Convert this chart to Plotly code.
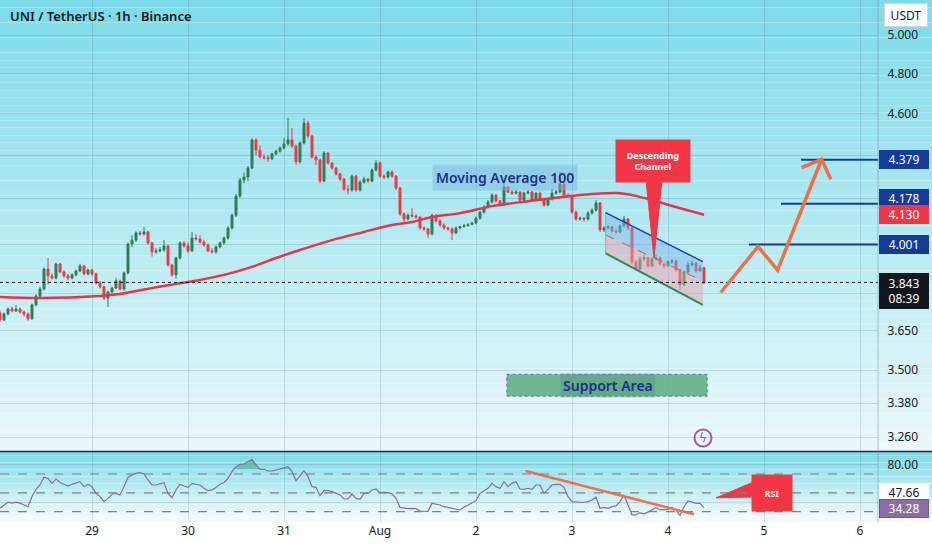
import math
import pandas as pd
import plotly.graph_objects as go

START = pd.Timestamp("2024-07-28 01:00")

# ---------------- data (1h candles) ----------------
first_open = 3.720
close = [
    3.693, 3.716, 3.736, 3.728, 3.736, 3.724, 3.716, 3.697, 3.752, 3.788,
    3.816, 3.898, 3.870, 3.861, 3.919, 3.886, 3.870, 3.861, 3.874, 3.890,
    3.911, 3.878, 3.894, 3.878, 3.841, 3.825, 3.780, 3.804, 3.820, 3.849,
    3.816, 3.882, 4.003, 4.020, 4.051, 4.046, 4.055, 4.008, 3.970, 3.974,
    3.978, 3.995, 3.915, 3.874, 3.944, 4.008, 3.995, 3.974, 4.029, 4.025,
    4.012, 3.999, 3.974, 3.970, 3.991, 4.008, 4.029, 4.072, 4.128, 4.213,
    4.285, 4.299, 4.340, 4.472, 4.424, 4.392, 4.388, 4.383, 4.406, 4.419,
    4.434, 4.453, 4.472, 4.443, 4.369, 4.458, 4.553, 4.491, 4.392, 4.378,
    4.281, 4.410, 4.364, 4.340, 4.313, 4.290, 4.244, 4.240, 4.303, 4.240,
    4.276, 4.290, 4.281, 4.331, 4.364, 4.303, 4.299, 4.322, 4.303, 4.249,
    4.133, 4.111, 4.128, 4.124, 4.120, 4.072, 4.068, 4.046, 4.128, 4.103,
    4.085, 4.072, 4.068, 4.051, 4.072, 4.078, 4.082, 4.087, 4.094, 4.115,
    4.141, 4.164, 4.186, 4.217, 4.191, 4.173, 4.253, 4.231, 4.226, 4.231,
    4.195, 4.226, 4.231, 4.195, 4.226, 4.199, 4.173, 4.199, 4.226, 4.231,
    4.267, 4.217, 4.212, 4.141, 4.111, 4.115, 4.111, 4.137, 4.150, 4.182,
    4.064, 4.072, 4.077, 4.059, 4.055, 4.081, 4.111, 4.072, 3.928, 3.898,
    3.940, 3.945, 3.911, 3.940, 3.944, 3.919, 3.911, 3.928, 3.932, 3.894,
    3.833, 3.886, 3.915, 3.923, 3.890, 3.903, 3.843,
]
high = [
    3.730, 3.722, 3.742, 3.745, 3.752, 3.742, 3.730, 3.722, 3.758, 3.795,
    3.825, 3.905, 3.944, 3.880, 3.925, 3.924, 3.893, 3.878, 3.880, 3.897,
    3.920, 3.915, 3.900, 3.900, 3.884, 3.848, 3.830, 3.810, 3.826, 3.862,
    3.855, 3.888, 4.010, 4.040, 4.058, 4.060, 4.077, 4.060, 4.012, 3.985,
    3.990, 4.020, 4.000, 3.920, 3.950, 4.015, 4.015, 4.010, 4.055, 4.045,
    4.040, 4.020, 4.005, 3.985, 3.998, 4.014, 4.035, 4.080, 4.136, 4.222,
    4.295, 4.320, 4.350, 4.480, 4.480, 4.445, 4.405, 4.400, 4.412, 4.425,
    4.440, 4.480, 4.578, 4.529, 4.450, 4.465, 4.575, 4.565, 4.495, 4.400,
    4.385, 4.418, 4.415, 4.368, 4.345, 4.318, 4.295, 4.262, 4.310, 4.308,
    4.285, 4.300, 4.296, 4.338, 4.378, 4.370, 4.312, 4.328, 4.330, 4.308,
    4.254, 4.140, 4.135, 4.158, 4.132, 4.125, 4.080, 4.072, 4.135, 4.132,
    4.110, 4.092, 4.078, 4.074, 4.078, 4.082, 4.090, 4.094, 4.100, 4.122,
    4.148, 4.172, 4.195, 4.225, 4.222, 4.196, 4.280, 4.258, 4.240, 4.240,
    4.236, 4.232, 4.240, 4.236, 4.232, 4.232, 4.205, 4.205, 4.245, 4.240,
    4.320, 4.272, 4.225, 4.218, 4.148, 4.122, 4.120, 4.145, 4.158, 4.195,
    4.186, 4.080, 4.085, 4.082, 4.070, 4.088, 4.125, 4.116, 4.078, 3.935,
    3.950, 3.958, 3.950, 3.948, 3.958, 3.950, 3.925, 3.935, 3.940, 3.937,
    3.900, 3.892, 3.928, 3.935, 3.928, 3.915, 3.908,
]
low = [
    3.685, 3.688, 3.710, 3.722, 3.724, 3.718, 3.705, 3.690, 3.693, 3.745,
    3.782, 3.810, 3.835, 3.855, 3.855, 3.880, 3.862, 3.853, 3.856, 3.868,
    3.885, 3.872, 3.872, 3.870, 3.835, 3.818, 3.772, 3.744, 3.798, 3.815,
    3.810, 3.810, 3.876, 3.990, 4.012, 4.040, 4.040, 4.000, 3.950, 3.962,
    3.968, 3.972, 3.908, 3.866, 3.858, 3.938, 3.988, 3.965, 3.970, 4.018,
    4.005, 3.992, 3.968, 3.962, 3.962, 3.985, 4.000, 4.022, 4.065, 4.120,
    4.205, 4.270, 4.280, 4.335, 4.400, 4.385, 4.380, 4.370, 4.378, 4.400,
    4.412, 4.428, 4.445, 4.435, 4.355, 4.362, 4.450, 4.480, 4.385, 4.355,
    4.270, 4.275, 4.355, 4.333, 4.305, 4.280, 4.235, 4.220, 4.232, 4.232,
    4.232, 4.268, 4.272, 4.275, 4.325, 4.295, 4.290, 4.292, 4.296, 4.240,
    4.125, 4.095, 4.105, 4.118, 4.112, 4.065, 4.060, 4.030, 4.040, 4.096,
    4.078, 4.065, 4.060, 4.020, 4.045, 4.066, 4.074, 4.078, 4.083, 4.088,
    4.108, 4.135, 4.158, 4.180, 4.185, 4.166, 4.168, 4.225, 4.218, 4.220,
    4.188, 4.190, 4.220, 4.188, 4.190, 4.193, 4.165, 4.168, 4.193, 4.220,
    4.225, 4.210, 4.205, 4.135, 4.104, 4.104, 4.100, 4.105, 4.130, 4.144,
    4.055, 4.056, 4.066, 4.052, 4.048, 4.050, 4.076, 4.065, 3.920, 3.890,
    3.892, 3.930, 3.905, 3.905, 3.932, 3.912, 3.900, 3.905, 3.920, 3.888,
    3.812, 3.828, 3.880, 3.908, 3.882, 3.885, 3.835,
]
rsi = [
    33.5, 37.0, 40.0, 39.0, 40.0, 39.0, 37.0, 35.2, 46.0, 53.7,
    58.3, 66.5, 65.4, 60.0, 64.7, 61.0, 59.0, 57.2, 59.0, 60.8,
    61.8, 56.5, 59.0, 56.5, 49.4, 46.0, 40.6, 44.0, 48.4, 49.4,
    47.7, 56.5, 66.5, 69.0, 70.7, 71.4, 70.0, 63.6, 58.3, 58.3,
    59.4, 60.8, 49.4, 44.8, 53.0, 59.0, 57.2, 55.8, 60.0, 59.4,
    58.3, 54.8, 52.3, 53.0, 55.5, 59.0, 61.0, 65.4, 72.5, 77.8,
    80.3, 80.6, 83.1, 85.6, 79.6, 75.0, 75.0, 73.2, 73.2, 74.3,
    75.3, 76.0, 77.8, 72.5, 62.9, 67.9, 73.5, 67.2, 56.5, 55.8,
    47.0, 52.3, 52.3, 51.2, 49.4, 47.7, 43.4, 43.4, 48.7, 44.0,
    43.0, 49.4, 49.4, 53.0, 54.0, 50.1, 50.5, 50.1, 48.7, 44.1,
    34.5, 33.5, 33.1, 33.5, 33.1, 30.6, 30.6, 30.3, 38.8, 38.1,
    37.0, 35.2, 34.5, 33.5, 32.4, 31.7, 34.5, 37.0, 39.5, 41.6,
    49.4, 51.9, 54.8, 60.0, 56.5, 54.8, 61.8, 56.5, 60.0, 61.8,
    54.0, 53.7, 54.8, 53.7, 58.3, 58.3, 49.4, 53.7, 58.3, 59.0,
    59.0, 55.8, 45.9, 40.6, 39.9, 39.9, 39.9, 40.6, 42.3, 45.2,
    33.5, 34.5, 33.5, 35.2, 36.0, 40.6, 47.7, 37.0, 26.4, 26.4,
    28.9, 27.4, 29.9, 31.7, 34.2, 31.7, 31.7, 32.4, 34.2, 31.7,
    25.7, 35.2, 41.3, 39.9, 38.8, 38.8, 34.28,
]
# Moving Average 100 sampled at candle indices
ma_idx = [0, 10, 25, 30, 38, 44, 50, 57, 63, 69, 75, 83, 91, 98, 103, 108,
          115, 123, 132, 140, 148, 155, 158, 163, 169, 176]
ma_val = [3.784, 3.780, 3.788, 3.796, 3.820, 3.837, 3.853, 3.878, 3.907, 3.944,
          3.978, 4.020, 4.055, 4.085, 4.098, 4.120, 4.137, 4.168, 4.190, 4.208,
          4.222, 4.226, 4.217, 4.195, 4.164, 4.130]

day_ticks = ["2024-07-29", "2024-07-30", "2024-07-31", "2024-08-01", "2024-08-02",
             "2024-08-03", "2024-08-04", "2024-08-05", "2024-08-06"]
day_labels = ["29", "30", "31", "Aug", "2", "3", "4", "5", "6"]

price_ticks = [5.0, 4.8, 4.6, 4.4, 4.2, 4.0, 3.8, 3.65, 3.5, 3.38, 3.26]
price_tick_text = ["5.000", "4.800", "4.600", "", "", "", "", "3.650", "3.500", "3.380", "3.260"]

last_price = 3.843
countdown = "08:39"
ma_last = 4.130
rsi_last = 34.28
rsi_ma_last = 47.66

# drawings (hours after START, price)
target_levels = [4.379, 4.178, 4.001]
target_start_h = [200.25, 195.25, 187.25]
projection_h = [180.2, 189.5, 194.4, 205.4]
projection_p = [3.802, 3.992, 3.894, 4.381]
arrowhead_h = [200.4, 205.4, 207.7]
arrowhead_p = [4.342, 4.381, 4.289]
channel_h = [151.4, 175.7]
channel_upper = [4.139, 3.929]
channel_mid = [4.042, 3.849]
channel_lower = [3.964, 3.752]
support_h = [126.7, 176.8]
support_p = [3.405, 3.485]
callout_h = [161.5, 165.5, 163.5]
callout_p = [4.285, 4.285, 3.944]
callout_box = (163.25, 4.373)
rsi_trend_h = [131.4, 173.5]
rsi_trend_v = [73.2, 27.1]
rsi_callout_h = [189.0, 189.0, 179.0]
rsi_callout_v = [62.6, 45.6, 44.6]
rsi_callout_box = (193.0, 49.3)
ma_label = (126.25, 4.299)
support_label = (152.0, 3.444)
bolt = (175.75, 3.257)
X_END_H = 219.5

# ---------------- helpers ----------------
def T(h):
    return START + pd.Timedelta(hours=h)

times = [T(i) for i in range(len(close))]
opens = [first_open] + close[:-1]
highs = [max(h, o, c) for h, o, c in zip(high, opens, close)]
lows = [min(l, o, c) for l, o, c in zip(low, opens, close)]

NAVY = "#143b9a"
RED = "#f23645"
GREEN = "#2e7d55"
ORANGE = "#f26f43"
TXT = "#131722"
FONT = "Noto Sans"

fig = go.Figure()

# support area
fig.add_trace(go.Scatter(
    x=[T(support_h[0]), T(support_h[1]), T(support_h[1]), T(support_h[0]), T(support_h[0])],
    y=[support_p[0], support_p[0], support_p[1], support_p[1], support_p[0]],
    fill="toself", fillcolor="rgba(98,178,132,0.9)", mode="lines",
    line=dict(color="rgba(70,90,190,0.8)", width=1, dash="dot"), hoverinfo="skip"))

# channel fills
ch0, ch1 = T(channel_h[0]), T(channel_h[1])
fig.add_trace(go.Scatter(
    x=[ch0, ch1, ch1, ch0, ch0],
    y=[channel_upper[0], channel_upper[1], channel_mid[1], channel_mid[0], channel_upper[0]],
    fill="toself", fillcolor="rgba(120,180,235,0.45)", mode="lines",
    line=dict(width=0), hoverinfo="skip"))
fig.add_trace(go.Scatter(
    x=[ch0, ch1, ch1, ch0, ch0],
    y=[channel_mid[0], channel_mid[1], channel_lower[1], channel_lower[0], channel_mid[0]],
    fill="toself", fillcolor="rgba(236,160,172,0.5)", mode="lines",
    line=dict(width=0), hoverinfo="skip"))
fig.add_trace(go.Scatter(x=[ch0, ch0], y=[channel_upper[0], channel_lower[0]], mode="lines",
                         line=dict(color="rgba(120,160,220,0.8)", width=1), hoverinfo="skip"))

# candles
fig.add_trace(go.Candlestick(
    x=times, open=opens, high=highs, low=lows, close=close,
    increasing=dict(line=dict(color=GREEN, width=1), fillcolor=GREEN),
    decreasing=dict(line=dict(color=RED, width=1), fillcolor=RED),
    whiskerwidth=0, hoverinfo="skip"))

# MA 100
fig.add_trace(go.Scatter(x=[times[i] for i in ma_idx], y=ma_val, mode="lines",
                         line=dict(color="#e8334a", width=2.5, shape="spline"), hoverinfo="skip"))

# channel lines
fig.add_trace(go.Scatter(x=[ch0, ch1], y=channel_upper, mode="lines",
                         line=dict(color="#1e3fa8", width=1.5), hoverinfo="skip"))
fig.add_trace(go.Scatter(x=[ch0, ch1], y=channel_mid, mode="lines",
                         line=dict(color="#e8553a", width=1, dash="dash"), hoverinfo="skip"))
fig.add_trace(go.Scatter(x=[ch0, ch1], y=channel_lower, mode="lines",
                         line=dict(color="#2e8b57", width=2), hoverinfo="skip"))

# last price dotted line
fig.add_trace(go.Scatter(x=[T(0), T(X_END_H)], y=[last_price, last_price], mode="lines",
                         line=dict(color="#131722", width=1, dash="dot"), hoverinfo="skip"))

# target levels
for p, h in zip(target_levels, target_start_h):
    fig.add_trace(go.Scatter(x=[T(h), T(X_END_H)], y=[p, p], mode="lines",
                             line=dict(color=NAVY, width=2), hoverinfo="skip"))

# projection arrow
fig.add_trace(go.Scatter(x=[T(h) for h in projection_h], y=projection_p, mode="lines",
                         line=dict(color=ORANGE, width=3.5), hoverinfo="skip"))
fig.add_trace(go.Scatter(x=[T(h) for h in arrowhead_h], y=arrowhead_p, mode="lines",
                         line=dict(color=ORANGE, width=3.5), hoverinfo="skip"))

# descending channel callout pointer
fig.add_trace(go.Scatter(x=[T(h) for h in callout_h] + [T(callout_h[0])],
                         y=callout_p + [callout_p[0]], fill="toself", fillcolor=RED,
                         mode="lines", line=dict(color=RED, width=1), hoverinfo="skip"))

# bolt icon circle
fig.add_trace(go.Scatter(x=[T(bolt[0])], y=[bolt[1]], mode="markers",
                         marker=dict(symbol="circle-open", size=17, color="#9b59b6",
                                     line=dict(width=2, color="#9b59b6")), hoverinfo="skip"))

# ---------------- RSI pane ----------------
fig.add_trace(go.Scatter(x=times, y=[75] * len(rsi), mode="lines", line=dict(width=0),
                         yaxis="y2", hoverinfo="skip"))
fig.add_trace(go.Scatter(x=times, y=[max(v, 75) for v in rsi], mode="lines", line=dict(width=0),
                         fill="tonexty", fillcolor="rgba(45,150,110,0.45)", yaxis="y2",
                         hoverinfo="skip"))
fig.add_trace(go.Scatter(x=times, y=rsi, mode="lines", line=dict(color="#8b6aa8", width=1.2),
                         yaxis="y2", hoverinfo="skip"))
fig.add_trace(go.Scatter(x=[T(h) for h in rsi_trend_h], y=rsi_trend_v, mode="lines",
                         line=dict(color=ORANGE, width=2.5), yaxis="y2", hoverinfo="skip"))
fig.add_trace(go.Scatter(x=[T(h) for h in rsi_callout_h] + [T(rsi_callout_h[0])],
                         y=rsi_callout_v + [rsi_callout_v[0]], fill="toself", fillcolor=RED,
                         mode="lines", line=dict(color=RED, width=1), yaxis="y2",
                         hoverinfo="skip"))

# ---------------- background gradient bands ----------------
PW, PH = 878.0, 522.0
XR = 932.0 / PW
shapes = []

def band(py0, py1, c0, c1, n):
    for k in range(n):
        a = py0 + (py1 - py0) * k / n
        b = py0 + (py1 - py0) * (k + 1) / n
        f = (k + 0.5) / n
        col = tuple(int(round(c0[j] + (c1[j] - c0[j]) * f)) for j in range(3))
        shapes.append(dict(type="rect", xref="paper", yref="paper", x0=0, x1=XR,
                           y0=(PH - b) / PH, y1=(PH - a) / PH, layer="below",
                           fillcolor="rgb(%d,%d,%d)" % col, line=dict(width=0)))

band(0, 451, (124, 219, 232), (234, 248, 251), 60)
band(452, 522, (124, 219, 232), (246, 251, 253), 20)

# separators
shapes.append(dict(type="line", xref="paper", yref="paper", x0=0, x1=XR,
                   y0=(PH - 451.5) / PH, y1=(PH - 451.5) / PH, line=dict(color="#2a2e39", width=1.5)))
shapes.append(dict(type="line", xref="paper", yref="paper", x0=1, x1=1, y0=0, y1=1,
                   line=dict(color="rgba(120,140,150,0.5)", width=1)))
# RSI levels
for lv in (70, 50, 30):
    shapes.append(dict(type="line", xref="paper", yref="y2", x0=0, x1=1, y0=lv, y1=lv,
                       line=dict(color="#7d8089", width=1.2, dash="dash")))

# ---------------- annotations ----------------
L = math.log10
ann = []
ann.append(dict(x=8 / PW, y=(PH - 16) / PH, xref="paper", yref="paper", xanchor="left",
                yanchor="middle", text="UNI / TetherUS · 1h · Binance", showarrow=False,
                font=dict(family=FONT, size=13, color=TXT, weight=600)))
ann.append(dict(x=T(ma_label[0]), y=L(ma_label[1]), xref="x", yref="y", text="Moving Average 100",
                showarrow=False, bgcolor="rgba(120,180,222,0.45)", borderpad=3,
                font=dict(family=FONT, size=14, color="#1c2f8c", weight=600)))
ann.append(dict(x=T(support_label[0]), y=L(support_label[1]), xref="x", yref="y", text="Support Area",
                showarrow=False, bgcolor="rgba(80,140,130,0.35)", borderpad=2,
                font=dict(family=FONT, size=14, color="#1c2f8c", weight=600)))
ann.append(dict(x=T(callout_box[0]), y=L(callout_box[1]), xref="x", yref="y",
                text="Descending<br>Channel", showarrow=False, bgcolor=RED, width=68, height=36,
                borderpad=3, align="center",
                font=dict(family=FONT, size=9, color="white", weight=700)))
ann.append(dict(x=T(rsi_callout_box[0]), y=rsi_callout_box[1], xref="x", yref="y2",
                text="RSI", showarrow=False, bgcolor=RED, width=36, height=32, borderpad=2,
                font=dict(family=FONT, size=9, color="white", weight=700)))
ann.append(dict(x=T(bolt[0]), y=L(bolt[1]), xref="x", yref="y", text="ϟ", showarrow=False,
                font=dict(family="DejaVu Sans", size=12, color="#9b59b6")))

def side_box(y, yref, text, bg, fg, yshift=0, yanchor="middle", border=None, h=15):
    ann.append(dict(x=1, xref="paper", xanchor="left", xshift=1, y=y, yref=yref,
                    yanchor=yanchor, yshift=yshift, text=text, showarrow=False, bgcolor=bg,
                    bordercolor=border or bg, borderwidth=1, width=46, height=h, borderpad=1,
                    align="center", font=dict(family=FONT, size=12, color=fg)))

side_box(L(target_levels[0]), "y", "%.3f" % target_levels[0], NAVY, "white")
side_box(L(target_levels[1]), "y", "%.3f" % target_levels[1], NAVY, "white", yshift=5)
side_box(L(ma_last), "y", "%.3f" % ma_last, RED, "white")
side_box(L(target_levels[2]), "y", "%.3f" % target_levels[2], NAVY, "white")
side_box(L(last_price), "y", "%.3f<br>%s" % (last_price, countdown), "#131722", "white",
         yshift=9, yanchor="top", h=32)
side_box(rsi_ma_last, "y2", "%.2f" % rsi_ma_last, "white", TXT, yshift=2)
side_box(rsi_last, "y2", "%.2f" % rsi_last, "#8a6fa6", "white", border="#6d5a8a", yshift=-1)
ann.append(dict(x=906 / PW, y=(PH - 15) / PH, xref="paper", yref="paper", text="USDT",
                xanchor="center", yanchor="middle", showarrow=False, bgcolor="white",
                bordercolor="#d1d4dc", borderwidth=1, width=38, height=18,
                borderpad=2, font=dict(family=FONT, size=12, color=TXT)))

GRID = "rgba(80,125,145,0.22)"
fig.update_layout(
    width=932, height=550, autosize=False,
    margin=dict(l=0, r=54, t=0, b=28),
    paper_bgcolor="white", plot_bgcolor="rgba(0,0,0,0)",
    showlegend=False, shapes=shapes, annotations=ann,
    font=dict(family=FONT, color=TXT, size=12),
    xaxis=dict(type="date", range=[T(0), T(X_END_H)], domain=[0, 1], anchor="y2",
               tickvals=day_ticks, ticktext=day_labels, showgrid=True, gridcolor=GRID,
               zeroline=False, showline=False, ticks="", rangeslider=dict(visible=False),
               tickfont=dict(family=FONT, size=12, color=TXT)),
    yaxis=dict(type="log", domain=[(PH - 451) / PH, 1], side="right", anchor="x",
               range=[L(3.212), L(5.190)], tickvals=price_ticks, ticktext=price_tick_text,
               showgrid=True, gridcolor=GRID, zeroline=False, ticks="outside", ticklen=6,
               tickcolor="rgba(0,0,0,0)", tickfont=dict(family=FONT, size=12, color=TXT)),
    yaxis2=dict(domain=[0, (PH - 452) / PH], side="right", anchor="x",
                range=[18.9, 93.4], tickvals=[80, 40], ticktext=["80.00", ""],
                showgrid=True, gridcolor=GRID, zeroline=False, ticks="outside", ticklen=6,
                tickcolor="rgba(0,0,0,0)", tickfont=dict(family=FONT, size=12, color=TXT)),
)

fig.write_html("out.html", config={"displayModeBar": False},
               post_script="document.body.style.margin='0';document.body.style.overflow='hidden';")
